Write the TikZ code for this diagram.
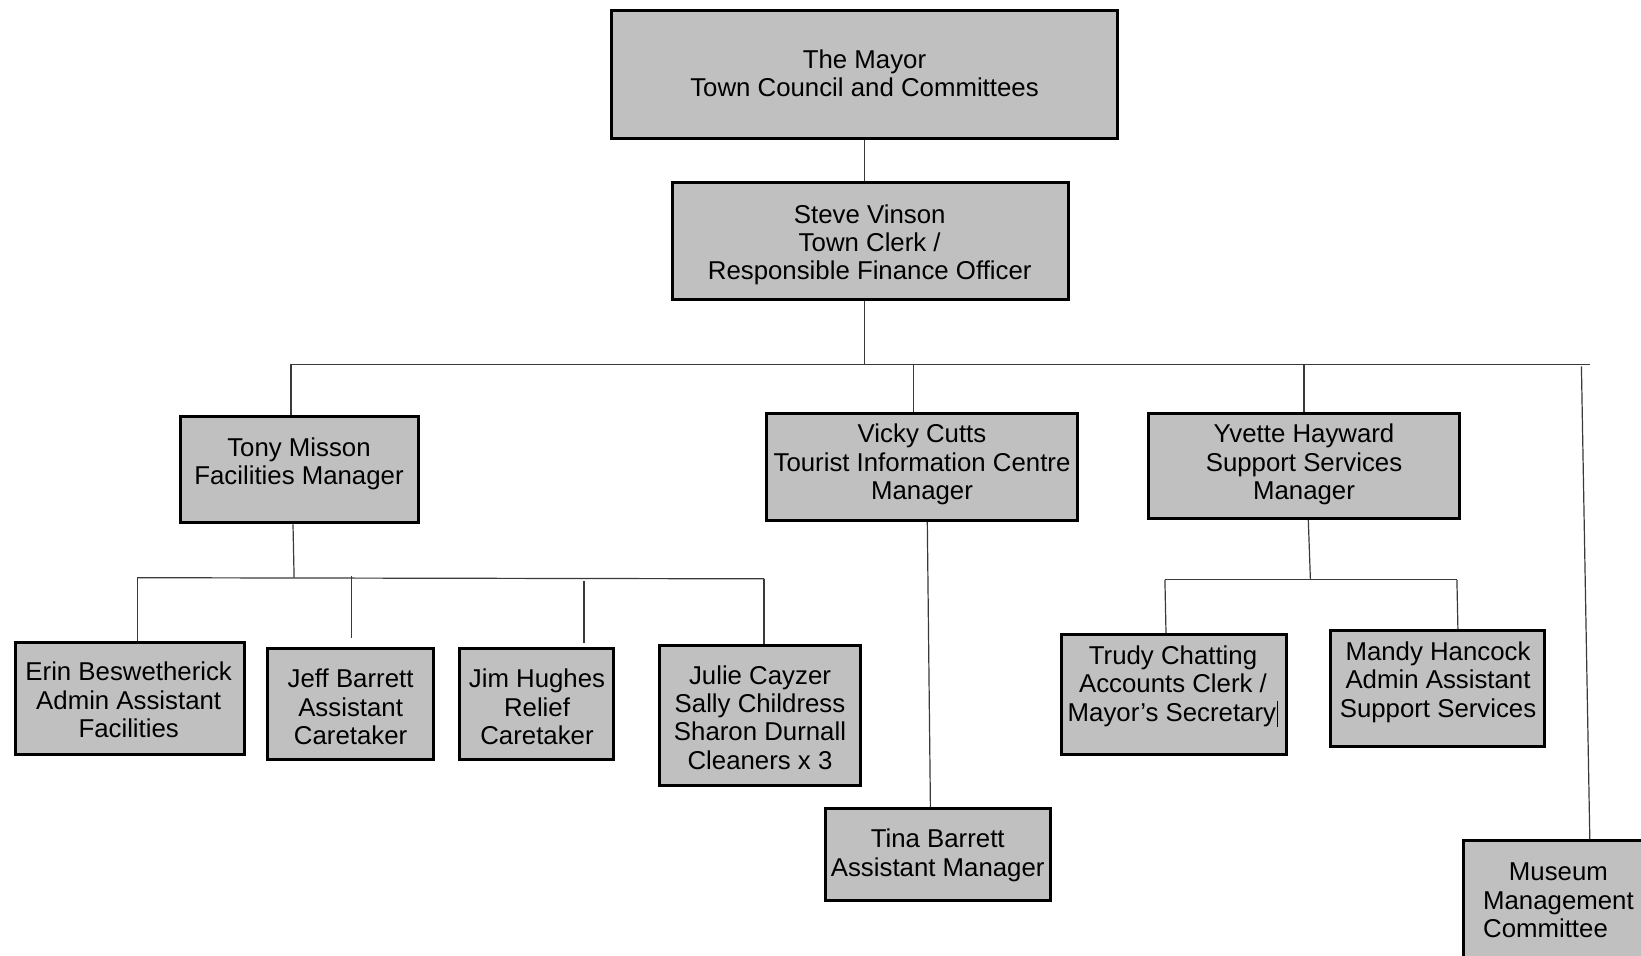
\documentclass[tikz,border=0pt]{standalone}
\usepackage{fontspec}
\setmainfont{Liberation Sans}
\definecolor{boxgray}{HTML}{C0C0C0}
\definecolor{linegray}{HTML}{3A3A3A}
\newcommand\orgbox[5]{\node[orgbx, minimum width={(#4-#2)*0.5pt}, minimum height={(#5-#3)*0.5pt}] (#1) at ({(#2+#4)/2},{(#3+#5)/2}) {};}
\begin{document}
\begin{tikzpicture}[x=0.5pt,y=-0.5pt,
  orgbx/.style={draw=black, fill=boxgray, line width=1.5pt, inner sep=0pt, rectangle},
  txt/.style={align=center, inner sep=0pt, font=\fontsize{12.9}{14.15}\selectfont, text=black},
  conn/.style={draw=linegray, line width=0.6pt}]
\useasboundingbox (0,0) rectangle (1641,955);
\clip (0,0) rectangle (1641,955);
\fill[white] (0,0) rectangle (1641,955);

% boxes
\orgbox{mayor}{611.7}{10.9}{1117.3}{138.7}
\orgbox{steve}{672.4}{182.6}{1068.1}{299.9}
\orgbox{tony}{180.5}{416}{418.2}{522.8}
\orgbox{vicky}{766.5}{413.9}{1077.5}{520.7}
\orgbox{yvette}{1148.5}{413.9}{1459.5}{518.7}
\orgbox{erin}{15.1}{642}{244.5}{754.1}
\orgbox{jeff}{267.3}{648.3}{433.9}{759.4}
\orgbox{jim}{459.9}{648.3}{613.9}{759.4}
\orgbox{julie}{659.8}{645.2}{860.9}{785.5}
\orgbox{tina}{825.2}{808.5}{1050.3}{900.5}
\orgbox{trudy}{1061.7}{634.7}{1286.9}{754.1}
\orgbox{mandy}{1330.7}{630.5}{1544.3}{746.8}
\orgbox{museum}{1463.6}{840.9}{1700}{1010}

% texts
\node[txt] (mayort) at (864.5,73.2) {The Mayor\\Town Council and Committees};
\node[txt] (stevet) at (869.7,244.8) {Steve Vinson\\Town Clerk /\\Responsible Finance Officer};
\node[txt] (tonyt) at (299,464) {Tony Misson\\Facilities Manager};
\node[txt] (vickyt) at (922,464.5) {Vicky Cutts\\Tourist Information Centre\\Manager};
\node[txt] (yvettet) at (1304,464.5) {Yvette Hayward\\Support Services\\Manager};
\node[txt] (erint) at (128.7,700) {Erin Beswetherick\\Admin Assistant\\Facilities};
\node[txt] (jefft) at (350.6,707) {Jeff Barrett\\Assistant\\Caretaker};
\node[txt] (jimt) at (537,707) {Jim Hughes\\Relief\\Caretaker};
\node[txt] (juliet) at (760,717.4) {Julie Cayzer\\Sally Childress\\Sharon Durnall\\Cleaners x 3};
\node[txt] (tinat) at (937.7,855.4) {Tina Barrett\\Assistant Manager};
\node[txt] (trudyt) at (1173,686.4) {Trudy Chatting\\Accounts Clerk /\\Mayor’s Secretary\hspace{0.6pt}\rule[-0.22em]{0.5pt}{1.0em}};
\node[txt] (mandyt) at (1438,682.2) {Mandy Hancock\\Admin Assistant\\Support Services};
\node[txt] (museumt) at (1558.4,903) {Museum\\Management\\\rlap{Committee}\phantom{Management}};

% connector coordinates
\coordinate (busL) at (291,364.2);
\coordinate (busR) at (1589.8,364.2);
\coordinate (xv) at (913.7,364.2);
\coordinate (xy) at (1304,364.2);
\coordinate (xm) at (1581.4,366.3);
\coordinate (xmb) at (1589.8,0);
\coordinate (ta) at (293,0);
\coordinate (tb) at (294.1,577.7);
\coordinate (fL) at (137.1,577.7);
\coordinate (fR) at (764,578.8);
\coordinate (j1) at (351.7,575.6);
\coordinate (j2) at (351.7,638.4);
\coordinate (h1) at (584,581);
\coordinate (h2) at (584,642.6);
\coordinate (va) at (927.3,0);
\coordinate (vb) at (930.4,0);
\coordinate (ya) at (1308.3,0);
\coordinate (yb) at (1310.4,579.8);
\coordinate (sL) at (1164.9,579.8);
\coordinate (sR) at (1456.9,579.8);
\coordinate (sL2) at (1166,0);
\coordinate (sR2) at (1457.9,0);

% connectors
\draw[conn] (mayor.south) -- (mayor.south |- steve.north);
\draw[conn] (mayor.south |- steve.south) -- (mayor.south |- busL);
\draw[conn] (busL) -- (busR);
\draw[conn] (busL) -- (busL |- tony.north);
\draw[conn] (xv) -- (xv |- vicky.north);
\draw[conn] (xy) -- (xy |- yvette.north);
\draw[conn] (xm) -- (xmb |- museum.north);

\draw[conn] (ta |- tony.south) -- (tb);
\draw[conn] (fL) -- (fR);
\draw[conn] (fL) -- (fL |- erin.north);
\draw[conn] (j1) -- (j2);
\draw[conn] (h1) -- (h2);
\draw[conn] (fR) -- (fR |- julie.north);

\draw[conn] (va |- vicky.south) -- (vb |- tina.north);

\draw[conn] (ya |- yvette.south) -- (yb);
\draw[conn] (sL) -- (sR);
\draw[conn] (sL) -- (sL2 |- trudy.north);
\draw[conn] (sR) -- (sR2 |- mandy.north);
\end{tikzpicture}
\end{document}
